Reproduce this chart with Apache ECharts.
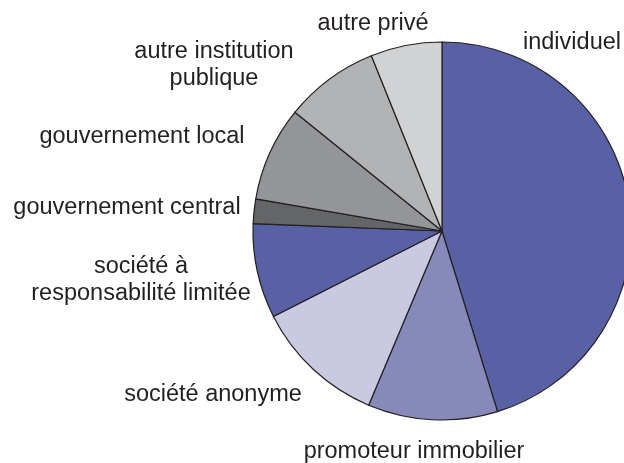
<!DOCTYPE html>
<html>
<head>
<meta charset="utf-8">
<script src="https://cdn.jsdelivr.net/npm/echarts@6/dist/echarts.min.js"></script>
<style>
  html, body { margin: 0; padding: 0; background: #fff; }
  #chart { width: 624px; height: 463px; }
</style>
</head>
<body>
<div id="chart"></div>
<script>
// Share of projects by type of developer (%), clockwise from 12 o'clock
const categories = [
  'individuel',
  'promoteur immobilier',
  'société anonyme',
  'société à\nresponsabilité limitée',
  'gouvernement central',
  'gouvernement local',
  'autre institution\npublique',
  'autre privé'
];
const shares = [45.3, 11.1, 11.2, 8.1, 2.1, 8.1, 8.1, 6.1];
const sliceColors = ['#5761A3', '#8789BB', '#CAC9E2', '#5761A3', '#646567', '#939598', '#B2B3B5', '#D1D2D4'];

// Label anchor points (centre of each text block), in pixels
const labelAnchors = [
  [572, 43], [414, 452], [213, 395], [141, 280],
  [127, 208], [142, 137], [214, 65], [373, 24]
];

const chart = echarts.init(document.getElementById('chart'), null, { renderer: 'canvas' });
chart.setOption({
  animation: false,
  series: [{
    type: 'pie',
    center: [442, 231],
    radius: 189,
    startAngle: 90,
    clockwise: true,
    avoidLabelOverlap: false,
    silent: true,
    data: categories.map((name, i) => ({
      name: name,
      value: shares[i],
      itemStyle: { color: sliceColors[i] }
    })),
    itemStyle: { borderColor: '#231F20', borderWidth: 1.2 },
    label: {
      show: true,
      position: 'outside',
      formatter: '{b}',
      fontFamily: 'Liberation Sans, Arial, sans-serif',
      fontSize: 23.5,
      lineHeight: 27,
      color: '#231F20',
      align: 'center'
    },
    labelLine: { show: false },
    labelLayout: function (params) {
      const p = labelAnchors[params.dataIndex];
      return { x: p[0], y: p[1], align: 'center', verticalAlign: 'middle' };
    },
    emphasis: { disabled: true }
  }]
});
</script>
</body>
</html>
